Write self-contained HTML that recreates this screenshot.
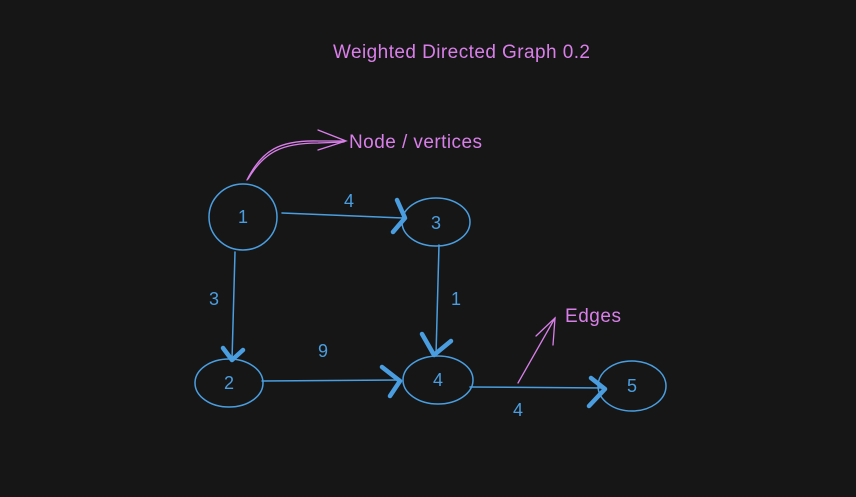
<!DOCTYPE html>
<html><head><style>html,body{margin:0;padding:0;background:#161616;}svg{display:block}</style></head>
<body>
<svg width="856" height="497" viewBox="0 0 856 497" xmlns="http://www.w3.org/2000/svg" font-family="Liberation Sans, sans-serif">
<rect width="856" height="497" fill="#161616"/>
<g fill="#d97fe9">
<text x="333" y="58" font-size="19" textLength="257">Weighted Directed Graph 0.2</text>
<text x="349" y="148" font-size="19" textLength="133">Node / vertices</text>
<text x="565" y="322" font-size="19" textLength="56">Edges</text>
</g>
<g stroke="#d97fe9" fill="none" stroke-width="1.3" stroke-linecap="round">
<path d="M247 180 C262 150 280 140 318 141 L345 141"/>
<path d="M248 179 C264 152 282 143 318 143 L344 142"/>
<path d="M318 130 L346 141 L318 150"/>
<path d="M518 383 L555 318"/>
<path d="M536 336 L555 318 L553 345"/>
</g>
<g stroke="#4a9ee0" fill="none" stroke-width="1.5" stroke-linecap="round">
<ellipse cx="243" cy="217" rx="34" ry="33"/>
<ellipse cx="436" cy="222" rx="34" ry="24"/>
<ellipse cx="229" cy="383" rx="34" ry="24"/>
<ellipse cx="438" cy="380" rx="35" ry="24"/>
<ellipse cx="632" cy="386" rx="34" ry="25"/>
<path d="M282 213 L403 218"/>
<path d="M235 252 L232 360"/>
<path d="M439 245 L436 355"/>
<path d="M262 381 L400 380"/>
<path d="M470 387 L605 388"/>
</g>
<g stroke="#4a9ee0" fill="none" stroke-width="4.5" stroke-linecap="round" stroke-linejoin="round">
<path d="M397 200 L405 218 L393 232"/>
<path d="M223 348 L232 360 L243 350"/>
<path d="M422 334 L434 355 L451 341"/>
<path d="M382 367 L400 381 L390 396"/>
<path d="M591 378 L605 389 L589 406"/>
</g>
<g fill="#4a9ee0" font-size="18" text-anchor="middle">
<text x="243" y="223">1</text>
<text x="436" y="229">3</text>
<text x="229" y="389">2</text>
<text x="438" y="386">4</text>
<text x="632" y="392">5</text>
<text x="349" y="207">4</text>
<text x="214" y="305">3</text>
<text x="456" y="305">1</text>
<text x="323" y="357">9</text>
<text x="518" y="416">4</text>
</g>
</svg>
</body></html>
